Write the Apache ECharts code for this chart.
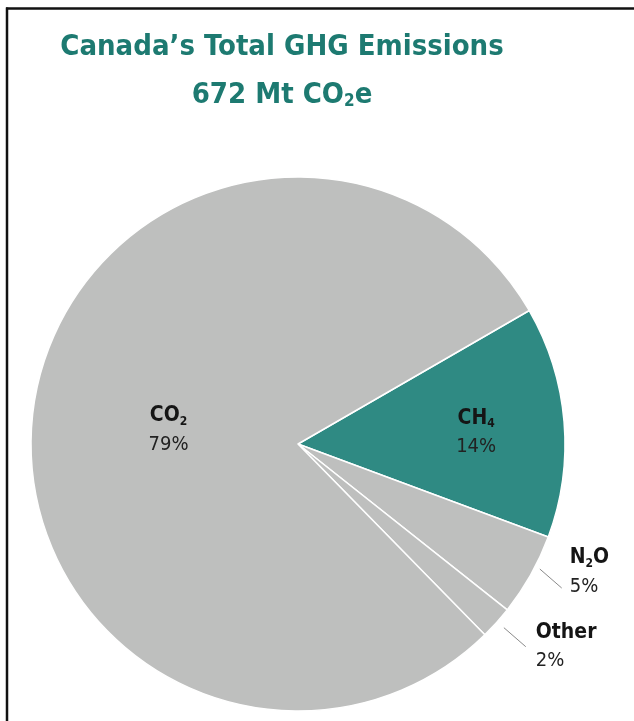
<!DOCTYPE html>
<html>
<head>
<meta charset="utf-8">
<script src="https://cdn.jsdelivr.net/npm/echarts@6/dist/echarts.min.js"></script>
<style>
  html, body { margin: 0; padding: 0; background: #fff; }
  #chart { width: 634px; height: 721px; }
</style>
</head>
<body>
<div id="chart"></div>
<script>
// Gas shares of Canada's total greenhouse gas emissions (percent)
const gases = ['CH4', 'N2O', 'Other', 'CO2'];
const gasLabels = ['{b|CH}{sb|4}', '{b|N}{sb|2}{b|O}', '{b|Other}', '{b|CO}{sb|2}'];
const shares = [14, 5, 2, 79];
const gasColors = ['#2f8a83', '#bebfbe', '#bebfbe', '#bebfbe'];
const insideLabel = [true, false, false, true];
const titleHeading = 'Canada’s Total GHG Emissions';
const totalEmissions = 672;

const FONT = '"DejaVu Sans Condensed", "Liberation Sans Narrow", sans-serif';
const CX = 298, CY = 444, R = 267;
// radial position of inside labels (fraction of radius)
const insideRadius = [0.67, 0, 0, 0.49];
// nudges for the outside leader lines and their labels
const leaderShift = [null, [4, -9], [3, 1], null];
const labelGap = [0, 8, 10, 0];
const labelRise = [0, -16, 0, 0];

const chart = echarts.init(document.getElementById('chart'), null, { renderer: 'canvas' });

const pieData = gases.map((g, i) => ({
  name: g,
  value: shares[i],
  itemStyle: { color: gasColors[i] },
  label: { position: insideLabel[i] ? 'inside' : 'outside', align: insideLabel[i] ? 'center' : 'left' },
  labelLine: { show: !insideLabel[i] }
}));

const richLabel = {
  b: { fontFamily: FONT, fontWeight: 'bold', fontSize: 21, color: '#151515', lineHeight: 29 },
  sb: { fontFamily: FONT, fontWeight: 'bold', fontSize: 12, color: '#151515', padding: [12, 0, 0, 0], lineHeight: 29 },
  p: { fontFamily: FONT, fontSize: 20, color: '#222', lineHeight: 29 }
};

const TEAL_TITLE = '#1d7a71';

chart.setOption({
  animation: false,
  backgroundColor: '#fff',
  graphic: [
    {
      type: 'text',
      x: 282, y: 23,
      style: {
        text: '{t|' + titleHeading + '}\n{t|' + totalEmissions + ' Mt CO}{ts|2}{t|e}',
        align: 'center',
        verticalAlign: 'top',
        rich: {
          t: { fontFamily: FONT, fontWeight: 'bold', fontSize: 29, fill: TEAL_TITLE, lineHeight: 48 },
          ts: { fontFamily: FONT, fontWeight: 'bold', fontSize: 17, fill: TEAL_TITLE, lineHeight: 48, padding: [14, 0, 0, 0] }
        }
      }
    },
    { type: 'line', shape: { x1: 6, y1: 8.5, x2: 634, y2: 8.5 }, style: { stroke: '#111', lineWidth: 2.5 } },
    { type: 'line', shape: { x1: 7, y1: 7.5, x2: 7, y2: 721 }, style: { stroke: '#111', lineWidth: 2.5 } }
  ],
  series: [{
    type: 'pie',
    center: [CX, CY],
    radius: [0, R],
    startAngle: 30,
    clockwise: true,
    avoidLabelOverlap: false,
    itemStyle: { borderColor: '#fff', borderWidth: 1.5 },
    emphasis: { disabled: true },
    label: {
      show: true,
      formatter: p => gasLabels[p.dataIndex] + '\n{p|' + p.value + '%}',
      rich: richLabel
    },
    labelLine: {
      length: 29,
      length2: 0,
      lineStyle: { color: '#8a8a8a', width: 1 }
    },
    labelLayout: function (params) {
      const i = params.dataIndex;
      if (insideLabel[i]) {
        const r = params.labelRect;
        const vx = r.x + r.width / 2 - CX, vy = r.y + r.height / 2 - CY;
        const k = insideRadius[i] * R / Math.hypot(vx, vy) - 1;
        return { dx: vx * k, dy: vy * k + 4 };
      }
      const pts = params.labelLinePoints;
      if (!pts) return {};
      const ux = (pts[0][0] - CX) / R, uy = (pts[0][1] - CY) / R;
      const sh = leaderShift[i];
      const s = [CX + ux * (R + 6) + sh[0], CY + uy * (R + 6) + sh[1]];
      const ang = 41 * Math.PI / 180;
      const e = [s[0] + 29 * Math.cos(ang), s[1] + 29 * Math.sin(ang)];
      return {
        x: e[0] + labelGap[i],
        y: e[1] + labelRise[i],
        align: 'left',
        verticalAlign: 'middle',
        labelLinePoints: [s, e, e]
      };
    },
    data: pieData
  }]
});
</script>
</body>
</html>
